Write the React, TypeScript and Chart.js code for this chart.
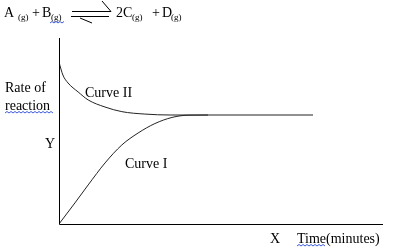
import React, { useEffect, useRef } from "react";
import { Chart, registerables } from "chart.js";
Chart.register(...registerables);

const curveIITime = [0, 1.2, 2.8, 5.9, 9.0, 14.2, 19.4, 26.5, 34.3, 78.4];
const curveIIRate = [87, 80.1, 75.8, 71.0, 66.7, 62.9, 60.4, 59.1, 58.6, 58.6];
const curveITime = [0, 4.9, 9.0, 14.2, 19.4, 24.4, 29.6, 34.9, 39.8, 46];
const curveIRate = [0, 11.3, 21.0, 32.8, 42.5, 48.9, 54.0, 57.3, 58.5, 58.6];

const curveLabels = ["Curve II", "Curve I"];
const yTitle = ["Rate of", "reaction"];
const yAxisLetter = "Y";
const xAxisLetter = "X";
const xTitle = "Time(minutes)";

const FONT = '"Liberation Serif", "Times New Roman", serif';

function wavy(ctx: CanvasRenderingContext2D, x0: number, x1: number, y: number) {
  ctx.save();
  ctx.strokeStyle = "#3b5bdb";
  ctx.lineWidth = 1;
  ctx.beginPath();
  let up = true;
  ctx.moveTo(x0, y);
  for (let x = x0 + 2; x <= x1; x += 2) {
    ctx.lineTo(x, up ? y - 1.5 : y);
    up = !up;
  }
  ctx.stroke();
  ctx.restore();
}

const decor = {
  id: "decor",
  afterDraw(chart: any) {
    const ctx: CanvasRenderingContext2D = chart.ctx;
    const { left, right, top, bottom } = chart.chartArea;
    ctx.save();
    ctx.strokeStyle = "#000";
    ctx.lineWidth = 1;
    ctx.beginPath();
    ctx.moveTo(left + 0.5, top);
    ctx.lineTo(left + 0.5, bottom + 0.5);
    ctx.lineTo(right, bottom + 0.5);
    ctx.stroke();

    ctx.fillStyle = "#000";
    ctx.textBaseline = "alphabetic";
    ctx.textAlign = "left";
    const main = `14px ${FONT}`;
    const sub = `9px ${FONT}`;
    const put = (t: string, x: number, y: number, f: string) => {
      ctx.font = f;
      ctx.fillText(t, x, y);
    };
    put("A", 4, 17, main);
    put("(g)", 18, 20, sub);
    put("+", 32, 17, main);
    put("B", 42, 17, main);
    put("(g)", 51, 20, sub);
    wavy(ctx, 50, 64, 23);
    put("2C", 116, 17, main);
    put("(g)", 132, 20, sub);
    put("+", 152, 17, main);
    put("D", 162, 17, main);
    put("(g)", 171, 20, sub);
    ctx.beginPath();
    ctx.moveTo(72, 11.5);
    ctx.lineTo(111, 11.5);
    ctx.lineTo(102, 1);
    ctx.moveTo(71, 16.5);
    ctx.lineTo(109, 16.5);
    ctx.moveTo(80, 18);
    ctx.lineTo(92, 23);
    ctx.stroke();

    ctx.font = main;
    ctx.fillText(yTitle[0], 5, 92);
    ctx.fillText(yTitle[1], 5, 110);
    wavy(ctx, 5, 53, 113);
    ctx.fillText(yAxisLetter, 45, 148);
    ctx.fillText(curveLabels[0], 85, 97);
    ctx.fillText(curveLabels[1], 125, 168);
    ctx.fillText(xAxisLetter, 270, 243);
    ctx.fillText(xTitle, 297, 243);
    wavy(ctx, 297, 326, 246);
    ctx.restore();
  },
};

export default function App() {
  const ref = useRef<HTMLCanvasElement | null>(null);
  useEffect(() => {
    if (!ref.current) return;
    const chart = new Chart(ref.current, {
      type: "scatter",
      data: {
        datasets: [
          {
            label: curveLabels[0],
            data: curveIITime.map((t, i) => ({ x: t, y: curveIIRate[i] })),
            showLine: true,
            borderColor: "#222",
            borderWidth: 1,
            pointRadius: 0,
            cubicInterpolationMode: "monotone",
          },
          {
            label: curveLabels[1],
            data: curveITime.map((t, i) => ({ x: t, y: curveIRate[i] })),
            showLine: true,
            borderColor: "#222",
            borderWidth: 1,
            pointRadius: 0,
            cubicInterpolationMode: "monotone",
          },
        ],
      },
      options: {
        animation: false,
        responsive: false,
        layout: { padding: { left: 59, right: 30, top: 38, bottom: 25 } },
        plugins: { legend: { display: false }, tooltip: { enabled: false } },
        scales: {
          x: { type: "linear", min: 0, max: 100, display: false },
          y: { type: "linear", min: 0, max: 100, display: false },
        },
      },
      plugins: [decor],
    } as any);
    return () => chart.destroy();
  }, []);
  return (
    <div style={{ position: "fixed", left: 0, top: 0, width: 413, height: 249, background: "#fff" }}>
      <canvas ref={ref} width={413} height={249} style={{ width: 413, height: 249 }} />
    </div>
  );
}
